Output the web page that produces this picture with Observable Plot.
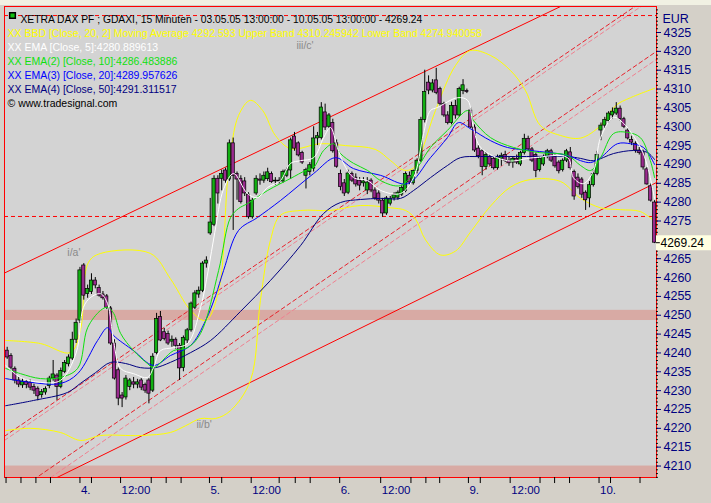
<!DOCTYPE html>
<html><head><meta charset="utf-8">
<script src="https://cdn.jsdelivr.net/npm/d3@7"></script>
<script src="https://cdn.jsdelivr.net/npm/@observablehq/plot@0.6"></script>
<style>
html,body{margin:0;padding:0;background:#d4d0c8;}
#wrap{position:relative;width:711px;height:503px;overflow:hidden;}
#strip{position:absolute;left:0;top:0;width:711px;height:5px;background:#f1f1e3;}
</style></head>
<body><div id="wrap"><div id="chart"></div><div id="strip"></div></div>
<script>
// ---- OHLC data, [open, high, low, close], 15-minute bars ----
const day3 = [
[4240.6,4241.5,4238.3,4238.8],[4239.2,4239.8,4235.5,4236.1],[4235.8,4236.3,4231.8,4232.7],
[4232.7,4233.5,4230.8,4231.6],[4231.4,4233.2,4230.6,4232.4],[4232.3,4232.8,4230.5,4231.5],
[4232.1,4232.8,4230.0,4230.8],[4231.0,4231.7,4229.0,4230.0],[4230.5,4231.0,4227.3,4228.5],
[4228.8,4230.3,4228.0,4229.6],[4229.5,4231.0,4228.8,4230.4],[4231.2,4233.8,4230.5,4233.2],
[4233.2,4238.0,4232.5,4234.3],[4234.0,4234.5,4227.4,4231.0],[4231.0,4236.0,4230.5,4235.2],
[4235.0,4238.0,4234.5,4237.3],[4237.0,4239.5,4236.3,4238.8],[4238.5,4245.5,4238.0,4243.5],
[4243.5,4249.0,4242.5,4248.0]];
const day4 = [
[4248.6,4262.7,4247.8,4261.9],[4263.2,4263.7,4254.0,4255.2],[4255.6,4258.0,4254.5,4257.0],
[4256.2,4261.0,4255.5,4259.2],[4259.2,4260.0,4257.0,4257.9],[4257.2,4258.0,4254.8,4255.2],
[4255.5,4256.3,4254.0,4254.5],[4255.0,4255.5,4251.5,4252.0],[4251.8,4252.3,4242.0,4242.5],
[4242.5,4243.5,4232.8,4233.2],[4235.4,4236.0,4226.0,4227.9],[4228.7,4229.5,4225.5,4227.9],
[4228.2,4234.0,4227.5,4233.2],[4231.0,4233.2,4230.0,4232.7],[4232.2,4233.5,4230.5,4231.6],
[4231.6,4233.0,4230.5,4232.2],[4232.7,4233.2,4230.0,4230.8],[4231.5,4232.0,4229.3,4230.0],
[4232.7,4233.2,4226.5,4229.2],[4230.0,4239.8,4229.5,4239.0],[4240.0,4250.5,4239.5,4249.0],
[4249.5,4251.0,4243.0,4243.3],[4245.5,4246.5,4243.2,4243.7],[4245.0,4245.8,4242.0,4242.5],
[4243.0,4244.5,4241.5,4243.5],[4243.5,4244.0,4241.0,4241.9],[4241.9,4242.5,4232.7,4235.9],
[4236.0,4244.5,4235.0,4244.0],[4243.3,4246.5,4242.5,4246.0],[4246.0,4253.5,4245.5,4253.1],
[4252.0,4256.5,4251.5,4255.8],[4255.5,4257.5,4254.5,4256.5],[4256.5,4264.2,4256.0,4263.7],
[4263.7,4265.5,4262.5,4264.5]];
const day5 = [
[4271.7,4281.0,4271.2,4274.6],[4274.0,4287.0,4273.5,4286.2],[4286.2,4287.0,4279.5,4282.3],
[4286.2,4288.5,4283.0,4287.5],[4288.4,4289.0,4285.0,4285.7],[4286.0,4296.5,4285.5,4295.6],
[4295.6,4297.0,4272.5,4287.0],[4287.5,4288.0,4280.5,4286.0],[4286.2,4287.0,4279.5,4280.0],
[4285.5,4286.5,4281.5,4282.3],[4282.0,4282.5,4275.5,4276.0],[4276.0,4281.0,4275.5,4280.4],
[4282.3,4287.0,4281.8,4286.2],[4286.0,4287.5,4284.5,4285.7],[4285.7,4288.0,4285.0,4287.0],
[4286.1,4289.0,4285.5,4287.9],[4287.5,4288.0,4285.0,4285.3],[4285.5,4286.5,4284.5,4285.7],
[4285.7,4286.5,4284.8,4285.5],[4285.5,4288.5,4285.0,4288.0],[4287.0,4289.0,4286.5,4288.4],
[4288.4,4297.0,4286.0,4296.4],[4297.4,4298.5,4293.5,4294.2],[4295.6,4296.0,4292.0,4292.4],
[4293.0,4293.5,4290.0,4290.5],[4287.0,4289.0,4283.5,4288.5],[4288.0,4290.5,4287.0,4289.8],
[4288.9,4300.0,4288.0,4296.9],[4296.9,4298.5,4295.0,4297.5],[4297.0,4306.4,4296.5,4305.1],
[4303.8,4306.0,4299.0,4299.8],[4300.0,4303.5,4299.5,4303.0],[4301.0,4302.0,4293.0,4293.5],
[4295.6,4296.5,4289.0,4289.4]];
const day6 = [
[4287.5,4288.5,4283.0,4284.0],[4285.0,4286.0,4281.5,4282.3],[4282.5,4288.5,4282.0,4287.6],
[4287.5,4288.0,4285.2,4285.7],[4286.5,4287.5,4284.0,4284.7],[4285.7,4286.5,4283.0,4284.4],
[4285.0,4286.5,4284.0,4285.5],[4283.1,4286.5,4282.0,4285.2],[4285.7,4286.2,4282.5,4283.1],
[4283.1,4283.8,4280.5,4281.0],[4282.3,4283.0,4279.5,4280.4],[4280.4,4281.0,4276.0,4277.0],
[4277.0,4281.5,4276.5,4281.0],[4279.6,4281.5,4279.0,4280.9],[4281.0,4282.5,4280.3,4281.8],
[4281.2,4283.0,4280.5,4282.5],[4282.0,4284.5,4281.5,4283.8],[4283.0,4288.0,4282.5,4287.5],
[4287.0,4288.0,4284.5,4285.2],[4285.0,4288.5,4284.5,4288.3],[4288.3,4291.5,4287.5,4291.0],
[4291.0,4302.5,4290.5,4301.8],[4301.8,4315.0,4301.0,4309.2],[4311.7,4313.5,4308.5,4309.6],
[4309.6,4312.5,4309.0,4311.5],[4312.3,4315.5,4308.5,4309.0],[4310.0,4310.5,4305.5,4306.1],
[4306.0,4306.5,4302.5,4303.0],[4303.0,4304.0,4300.5,4301.0],[4301.0,4306.5,4300.5,4305.5],
[4305.5,4307.0,4302.0,4303.0],[4303.0,4310.5,4302.5,4310.0],[4309.5,4312.5,4308.5,4311.0],
[4309.5,4310.0,4308.8,4309.2]];
const day9 = [
[4304.3,4305.0,4299.5,4299.8],[4299.8,4300.5,4293.2,4293.7],[4294.2,4295.0,4291.5,4292.2],
[4293.5,4294.0,4287.0,4289.3],[4289.3,4293.2,4288.5,4292.5],[4292.0,4292.5,4289.5,4290.0],
[4291.5,4292.0,4288.5,4289.0],[4289.0,4292.5,4288.5,4291.8],[4291.5,4293.0,4289.5,4292.3],
[4292.5,4293.5,4290.5,4291.0],[4291.0,4292.0,4289.5,4290.3],[4290.5,4292.0,4289.0,4291.5],
[4291.5,4292.5,4290.0,4290.5],[4290.0,4293.5,4289.5,4293.0],[4293.0,4298.0,4292.5,4296.8],
[4296.8,4297.5,4293.5,4294.0],[4294.0,4294.5,4290.5,4291.0],[4292.5,4293.0,4286.5,4288.3],
[4288.5,4292.0,4288.0,4291.5],[4290.0,4292.5,4289.5,4292.0],[4292.0,4294.0,4291.5,4293.5],
[4293.5,4294.0,4290.5,4291.0],[4292.0,4292.5,4289.0,4289.5],[4290.5,4291.0,4287.5,4288.2],
[4288.5,4291.5,4288.0,4291.0],[4291.0,4294.0,4290.5,4293.5],[4293.2,4294.5,4288.5,4289.0],
[4288.0,4288.5,4280.5,4281.5],[4286.5,4287.5,4283.5,4284.0],[4286.0,4286.5,4281.0,4282.0],
[4282.5,4283.0,4277.8,4280.5],[4281.0,4285.5,4278.5,4284.5],[4284.5,4288.5,4284.0,4287.5],
[4287.5,4293.5,4287.0,4292.5]];
const day10 = [
[4299.0,4301.0,4296.3,4300.3],[4300.3,4302.5,4299.5,4301.8],[4301.5,4304.0,4301.0,4303.5],
[4303.0,4305.0,4302.0,4304.0],[4303.5,4306.4,4303.0,4304.8],[4304.8,4305.5,4301.5,4302.1],
[4302.0,4302.5,4299.5,4300.0],[4299.0,4299.5,4296.5,4296.9],[4296.5,4297.5,4295.0,4295.8],
[4295.5,4296.0,4293.0,4293.7],[4293.7,4294.5,4292.5,4293.0],[4293.2,4293.8,4288.5,4289.2],
[4288.7,4289.2,4284.5,4284.7],[4284.2,4284.8,4280.0,4280.4],[4279.9,4280.4,4269.0,4269.24]];

// ---- indicator lines: [bar, price] ----
const ema5 = [[-0.4,4236.7],[3.5,4233.5],[8.7,4232.2],[13.9,4232.7],[18.0,4240.0],[19.9,4252.1],[21.75,4254.7],[24.4,4255.7],[26.2,4253.1],[27.8,4243.0],[29.6,4235.9],[33.0,4234.5],[36.6,4233.5],[38.2,4236.1],[40.0,4240.6],[43.4,4241.4],[47.1,4242.5],[50.5,4252.1],[52.5,4262.0],[54.2,4272.0],[56.5,4283.5],[59.1,4287.6],[62.7,4282.3],[65.3,4281.2],[68.0,4283.9],[71.3,4285.7],[74.0,4290.3],[76.6,4291.0],[80.0,4291.8],[82.6,4297.1],[84.4,4299.8],[86.2,4294.5],[87.8,4290.3],[90.4,4286.5],[94.1,4285.7],[97.5,4283.1],[102.7,4282.3],[106.1,4286.5],[108.7,4298.2],[110.5,4304.3],[112.3,4305.1],[117.6,4307.7],[120.2,4307.0],[121.7,4299.8],[123.6,4294.5],[130.6,4291.0],[137.4,4291.8],[146.3,4291.8],[147.8,4286.5],[150.4,4284.9],[153.1,4288.4],[154.9,4297.1],[158.3,4302.5],[160.9,4300.9],[165.3,4294.5],[167.1,4289.7],[169.0,4280.9]];
const ema10 = [[-0.4,4235.9],[3.5,4234.5],[8.7,4233.2],[13.9,4233.5],[18.4,4235.9],[21.0,4246.7],[24.4,4251.3],[26.2,4252.1],[27.8,4250.5],[29.6,4245.2],[33.0,4240.6],[36.6,4237.2],[38.2,4236.1],[43.4,4240.6],[47.1,4241.4],[50.5,4245.2],[55.2,4261.9],[58.3,4275.9],[60.4,4278.3],[62.7,4279.6],[68.0,4283.1],[74.0,4286.3],[77.9,4288.4],[80.0,4289.2],[82.6,4293.7],[85.2,4295.5],[87.0,4292.9],[90.4,4290.3],[94.1,4288.4],[97.5,4285.7],[102.7,4284.4],[107.1,4289.2],[110.5,4294.5],[114.9,4299.0],[120.2,4304.3],[121.7,4301.7],[126.2,4297.1],[132.2,4294.5],[138.4,4293.2],[146.3,4292.4],[149.7,4289.7],[152.3,4288.4],[154.9,4291.8],[158.3,4298.2],[161.9,4298.5],[165.3,4297.1],[167.9,4291.0],[169.0,4286.5]];
const ema20 = [[-0.4,4233.2],[6.1,4232.2],[13.9,4231.9],[18.4,4234.5],[23.6,4243.3],[26.2,4246.7],[27.8,4244.6],[33.0,4240.6],[38.2,4236.7],[42.6,4239.3],[47.9,4242.0],[51.8,4248.6],[54.4,4255.2],[56.5,4261.9],[60.4,4272.5],[65.3,4275.9],[71.3,4280.4],[80.0,4287.6],[85.7,4291.8],[90.4,4288.9],[97.5,4287.1],[104.5,4284.9],[110.5,4291.8],[114.9,4297.1],[117.8,4301.1],[120.9,4299.5],[126.2,4296.3],[130.6,4294.5],[136.6,4293.7],[146.3,4292.4],[149.7,4291.0],[152.3,4290.5],[154.9,4291.8],[159.3,4295.5],[162.7,4295.5],[166.1,4294.5],[169.0,4290.0]];
const ema50 = [[-0.4,4226.0],[6.9,4227.4],[15.7,4229.5],[19.1,4231.9],[23.1,4234.8],[27.0,4237.5],[30.9,4237.2],[34.8,4236.1],[38.7,4236.1],[42.6,4237.5],[47.9,4240.1],[53.1,4243.3],[60.9,4251.0],[68.7,4259.2],[76.6,4268.5],[82.6,4277.0],[87.0,4279.9],[92.2,4280.7],[97.5,4281.0],[102.7,4281.0],[106.1,4283.1],[110.5,4286.5],[114.9,4289.7],[118.3,4291.8],[123.6,4292.1],[134.0,4292.1],[146.3,4292.1],[149.7,4291.6],[153.1,4291.0],[158.3,4292.9],[163.5,4293.7],[167.1,4293.2],[169.0,4291.3]];
const bbUpper = [[-0.4,4243.3],[8.7,4242.5],[16.5,4240.1],[19.1,4246.0],[21.2,4264.0],[24.4,4266.4],[37.4,4266.4],[42.6,4259.7],[47.9,4251.3],[51.8,4248.6],[55.2,4256.5],[57.8,4288.4],[60.4,4303.0],[63.5,4307.0],[66.7,4304.3],[70.0,4297.7],[74.0,4294.2],[81.8,4295.5],[88.3,4295.0],[96.1,4294.0],[100.1,4291.0],[103.5,4288.5],[106.0,4289.0],[108.0,4293.0],[111.8,4304.3],[117.0,4316.2],[120.9,4320.2],[126.2,4318.9],[131.4,4314.9],[135.3,4309.6],[139.2,4300.3],[144.4,4297.7],[149.7,4297.0],[154.9,4300.3],[158.8,4305.6],[162.7,4307.7],[169.0,4310.2]];
const bbLower = [[-0.4,4219.4],[6.1,4220.0],[13.9,4218.9],[19.1,4216.8],[24.4,4218.1],[34.8,4218.1],[42.6,4218.9],[46.6,4220.7],[50.5,4222.6],[54.4,4222.6],[58.3,4224.7],[63.5,4232.7],[66.1,4253.9],[68.7,4269.8],[71.3,4276.5],[76.6,4277.8],[84.4,4277.8],[92.2,4279.1],[100.1,4278.5],[104.0,4277.8],[106.6,4275.5],[109.2,4270.0],[113.1,4266.0],[117.0,4267.0],[120.9,4272.0],[126.2,4279.0],[131.4,4284.0],[136.6,4286.0],[144.4,4285.5],[149.7,4281.0],[154.9,4278.5],[160.1,4278.0],[165.3,4277.5],[169.0,4274.9]];
// linear band (solid) and dashed trend lines: two end points each
const chanUpper = [[-0.7,4261.2],[169.5,4344.1]];
const chanLower = [[-0.7,4200.1],[169.5,4285.2]];
const dashA  = [[-0.7,4217.9],[169.5,4335.8]];
const dashA2 = [[-0.7,4216.8],[169.5,4334.7]];
const dashB  = [[-0.7,4201.1],[169.5,4320.0]];
const dashB2 = [[-0.7,4198.5],[169.5,4317.9]];
const hLines = [4329.5, 4276.2];
const zones = [[4248.6,4251.3],[4200.0,4210.0]];
const annotations = [{bar:75.5,price:4321.6,text:"iii/c'"},{bar:15.7,price:4266.6,text:"i/a'"},{bar:49.4,price:4221.0,text:"ii/b'"}];
// axes
const yTicks = d3.range(4210, 4326, 5).filter(v => v !== 4270);
const yMinor = d3.range(4207, 4332, 1);
const xMinor = [-0.3,3.6,7.5,11.3,22,37.6,41.5,45.4,56,71,75.2,79.1,105.4,109.3,112.9,123.5,139.1,142.9,146.8,157.5,165.2];
const xMajorBars = [19,29.6,52.8,63.7,86.8,97.5,120.4,131.3,154.5];
const xMajorLabels = ["4.","12:00","5.","12:00","6.","12:00","9.","12:00","10."];
const title = "XETRA DAX PF ; GDAXI, 15 Minuten - 03.05.05 13:00:00 - 10.05.05 13:00:00 - 4269.24";
const legendTexts = [
 "XX BBD [Close, 20, 2] Moving Average 4292.593 Upper Band 4310.245942 Lower Band 4274.940058",
 "XX EMA [Close, 5]:4280.889613",
 "XX EMA(2) [Close, 10]:4286.483886",
 "XX EMA(3) [Close, 20]:4289.957626",
 "XX EMA(4) [Close, 50]:4291.311517",
 "\u00a9 www.tradesignal.com"];
const legendColors = ["#ffff00","#ffffff","#10e010","#0000ff","#000080","#000000"];

const candles = [...day3,...day4,...day5,...day6,...day9,...day10].map(([o,h,l,c],i)=>({i,o,h,l,c}));
const last = candles[candles.length-1];
const xDomain = [-0.7, 169.5];
const yDomain = [4206.96, 4331.9];
const navy = "#000080";

const ln = (data, stroke, extra={}) => Plot.line(data, {x: d=>d[0], y: d=>d[1], stroke, strokeWidth: 1, clip: true, ...extra});

const chart = Plot.plot({
  width: 711, height: 503,
  marginLeft: 4, marginRight: 55, marginTop: 6, marginBottom: 26,
  x: {domain: xDomain, axis: null},
  y: {domain: yDomain},
  style: {background: "#d4d0c8", fontFamily: "'Liberation Sans', Arial, sans-serif", fontSize: "11px", overflow: "visible"},
  marks: [
    Plot.frame({fill: "#d3d3d3", stroke: null}),
    Plot.rect(zones, {x1: xDomain[0], x2: xDomain[1], y1: d=>d[0], y2: d=>d[1], fill: "#d8aaa4", clip: true}),
    Plot.ruleY(hLines, {stroke: "#ff0000", strokeDasharray: "4,3"}),
    ln(dashA, "#e8202a", {strokeDasharray: "4,3"}),
    ln(dashA2, "#f08090", {strokeDasharray: "4,3"}),
    ln(dashB, "#e8202a", {strokeDasharray: "4,3"}),
    ln(dashB2, "#f08090", {strokeDasharray: "4,3"}),
    ln(chanUpper, "#ff0000"),
    ln(chanLower, "#ff0000"),
    ln(bbUpper, "#ffff00", {curve: "catmull-rom"}),
    ln(bbLower, "#ffff00", {curve: "catmull-rom"}),
    Plot.ruleX(candles, {x: "i", y1: "l", y2: "h", stroke: "#000", strokeWidth: 1}),
    Plot.rect(candles, {x1: d=>d.i-0.42, x2: d=>d.i+0.42, y1: "o", y2: "c", fill: d=>d.c>=d.o ? "#12b012" : "#9a2a8e", stroke: "#000", strokeWidth: 0.7}),
    ln(ema50, navy, {curve: "catmull-rom"}),
    ln(ema20, "#0000ff", {curve: "catmull-rom"}),
    ln(ema10, "#10e010", {curve: "catmull-rom"}),
    ln(ema5, "#ffffff", {curve: "catmull-rom"}),
    Plot.text(annotations, {x: "bar", y: "price", text: "text", fill: "#8a8a8a", textAnchor: "start", fontSize: 10.5}),
    // legend
    Plot.dot([0], {frameAnchor: "top-left", dx: 8, dy: 9, symbol: "square", r: 3.2, fill: "#10c010", stroke: "#000"}),
    Plot.text([title], {frameAnchor: "top-left", dx: 16, dy: 9, fill: "#000", textAnchor: "start", fontSize: 10.3}),
    ...legendTexts.map((t,k)=>Plot.text([t], {frameAnchor: "top-left", dx: 3, dy: 23.5 + k*13.9, fill: legendColors[k], textAnchor: "start", fontSize: 10.5})),
    Plot.frame({stroke: "#ff0000"}),
    // right axis
    Plot.ruleY(yMinor, {x1: xDomain[1], x2: xDomain[1] + 0.5, stroke: "#000"}),
    Plot.axisY(yTicks, {anchor: "right", tickSize: 4, tickPadding: 3, tickFormat: d=>String(d), fontSize: 12.5, color: navy}),
    Plot.text(["EUR"], {frameAnchor: "top-right", dx: 6, dy: 8, textAnchor: "start", fill: navy, fontSize: 12.5}),
    Plot.ruleY([last.c], {x1: xDomain[1], x2: xDomain[1] + 15, stroke: "#ffffe1", strokeWidth: 15}),
    Plot.ruleY([last.c], {x1: xDomain[1], x2: xDomain[1] + 1, stroke: "#000"}),
    Plot.text([last.c], {y: d=>d, frameAnchor: "right", dx: 4, text: d=>d.toFixed(2), textAnchor: "start", fill: "#000", fontSize: 12}),
    // bottom axis
    Plot.ruleX(xMinor.concat(xMajorBars), {y1: yDomain[0], y2: yDomain[0] - 1.6, stroke: "#000"}),
    Plot.text(xMajorBars, {x: d=>d, frameAnchor: "bottom", dy: 16, dx: 1, text: (d,k)=>xMajorLabels[k], textAnchor: "start", fill: navy, fontSize: 11.5})
  ]
});
document.getElementById("chart").appendChild(chart);
</script>
</body></html>
